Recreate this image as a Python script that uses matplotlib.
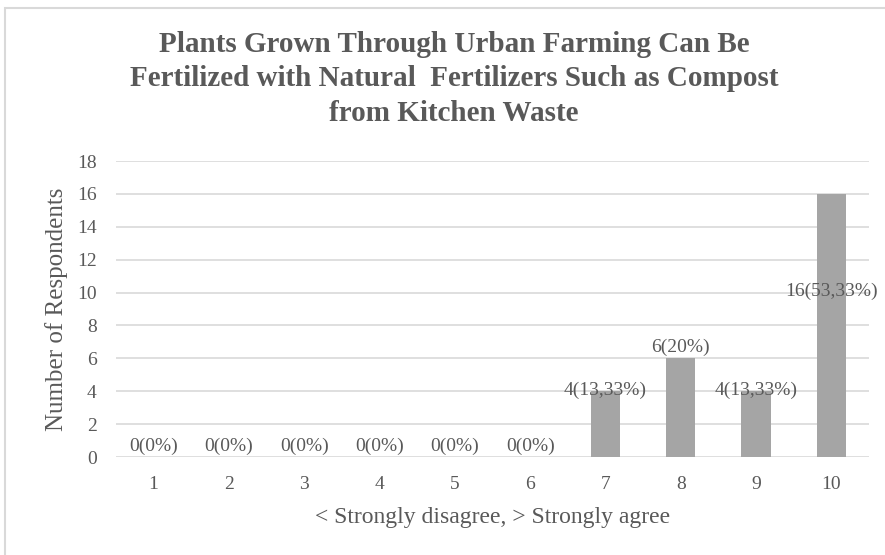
import matplotlib.pyplot as plt
from matplotlib.patches import Rectangle

# survey answers on a 1-10 scale
scores = ['1', '2', '3', '4', '5', '6', '7', '8', '9', '10']
respondents = [0, 0, 0, 0, 0, 0, 4, 6, 4, 16]
shares = ['0%', '0%', '0%', '0%', '0%', '0%', '13,33%', '20%', '13,33%', '53,33%']

title = ('Plants Grown Through Urban Farming Can Be\n'
         'Fertilized with Natural  Fertilizers Such as Compost\n'
         'from Kitchen Waste')

plt.rcParams['font.family'] = ['Liberation Serif', 'DejaVu Serif']
text_col = '#595959'

fig = plt.figure(figsize=(8.85, 5.55), dpi=100)
fig.patches.append(Rectangle((5 / 885, -0.1), 1.2, 0.1 + (555 - 8) / 555,
                             transform=fig.transFigure, fill=False,
                             edgecolor='#d9d9d9', linewidth=1.5))

ax = fig.add_axes([116 / 885, (555 - 457) / 555, (869 - 116) / 885, (457 - 161) / 555])
x = list(range(len(scores)))
ax.bar(x, respondents, width=0.39, color='#a5a5a5', zorder=2)

ax.set_ylim(0, 18)
ax.set_xlim(-0.5, len(scores) - 0.5)
ax.set_yticks(range(0, 19, 2))
ax.set_xticks(x)
ax.set_xticklabels(scores)
ax.yaxis.grid(True, color='#d9d9d9', linewidth=1.2, zorder=0)
for s in ax.spines.values():
    s.set_visible(False)
ax.tick_params(length=0, labelsize=14, labelcolor=text_col)
ax.tick_params(axis='x', pad=14)
ax.tick_params(axis='y', pad=14)

# data labels; the tall bar gets its label part-way down
for i, (v, p) in enumerate(zip(respondents, shares)):
    y = v + 0.15
    if v == 16:
        y = 9.55
    elif v == 4:
        y = 3.55
    ax.text(i, y, f'{v}({p})', ha='center', va='bottom', fontsize=14,
            color=text_col, zorder=3)

ax.set_ylabel('Number of Respondents', fontsize=18, color=text_col, labelpad=6)
ax.set_xlabel('< Strongly disagree, > Strongly agree', fontsize=17,
              color=text_col, labelpad=10)

fig.text(454 / 885, 1 - 79 / 555, title, ha='center', va='center',
         fontsize=21, fontweight='bold', color=text_col, linespacing=1.34)

fig.savefig('out.png', dpi=100)
